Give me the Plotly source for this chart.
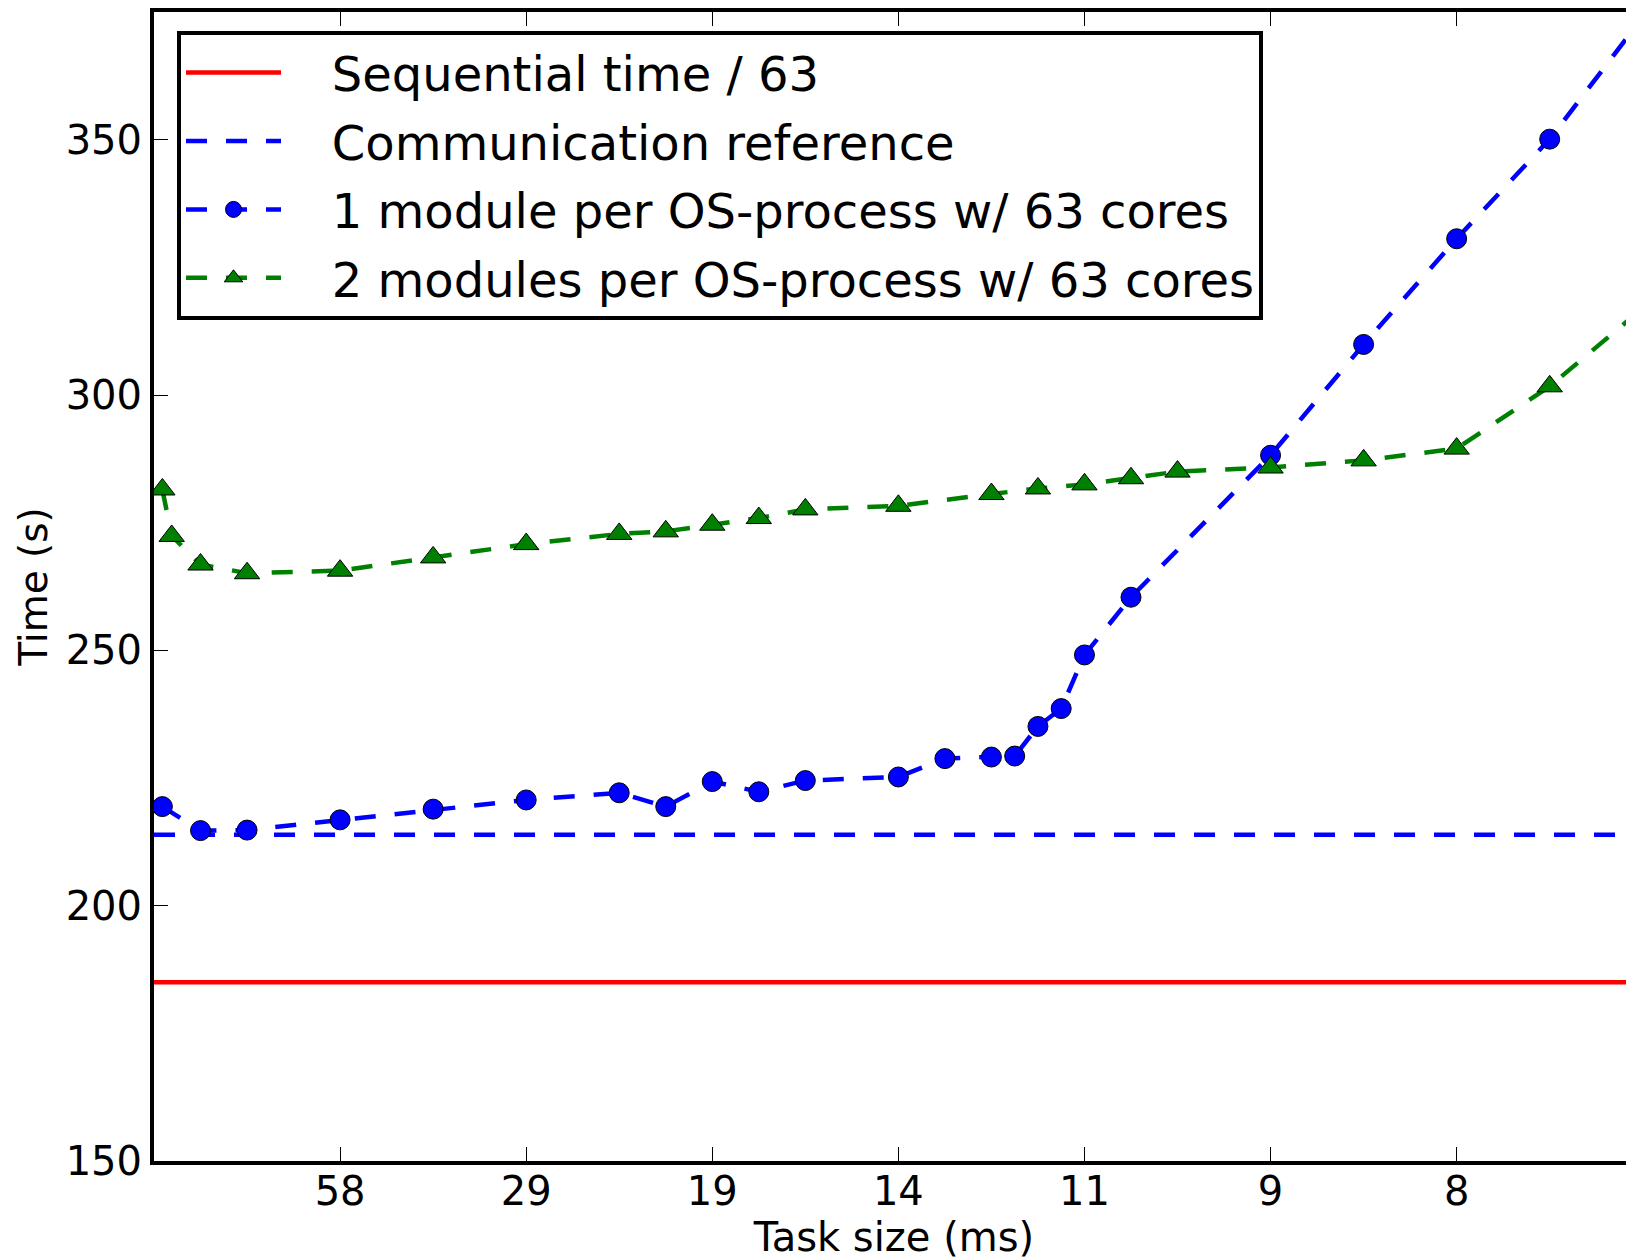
import plotly.graph_objects as go

# ---- data (x in units of task-count steps; ticks labelled by task size) ----
tick_pos = [1, 2, 3, 4, 5, 6, 7]
tick_labels = ["58", "29", "19", "14", "11", "9", "8"]
y_ticks = [150, 200, 250, 300, 350]

x_extent = [0, 8]
seq_time_63 = 185.0
comm_reference = 213.9

x_one_module = [0.045, 0.25, 0.5, 1.0, 1.5, 2.0, 2.5, 2.75, 3.0, 3.25, 3.5,
                4.0, 4.25, 4.5, 4.625, 4.75, 4.875, 5.0, 5.25, 6.0, 6.5, 7.0, 7.5, 8.0]
y_one_module = [219.4, 214.7, 214.8, 216.8, 218.9, 220.7, 222.1, 219.4, 224.3, 222.3, 224.5,
                225.2, 228.8, 229.1, 229.3, 235.1, 238.6, 249.1, 260.4, 288.2, 309.9, 330.6, 350.1, 374.0]

x_two_modules = [0.045, 0.095, 0.25, 0.5, 1.0, 1.5, 2.0, 2.5, 2.75, 3.0, 3.25, 3.5,
                 4.0, 4.5, 4.75, 5.0, 5.25, 5.5, 6.0, 6.5, 7.0, 7.5, 8.0]
y_two_modules = [281.5, 272.4, 266.8, 265.1, 265.6, 268.2, 270.8, 272.8, 273.3, 274.6, 275.9, 277.6,
                 278.3, 280.6, 281.7, 282.5, 283.7, 285.0, 285.8, 287.2, 289.5, 301.7, 317.0]

names = ["Sequential time / 63", "Communication reference",
         "1 module per OS-process w/ 63 cores", "2 modules per OS-process w/ 63 cores"]
PAD = "\u00a0" * 3  # gap between legend symbol and label

# ---- layout geometry (page has an 8px body margin) ----
W, H = 1626, 1252
L, R, T, B = 146, 0, 2, 95
x_range = [0, 7.953]
y_range = [150, 375]
FONT = "DejaVu Sans"
DASH = "21px,19px"
LW = 4.5

fig = go.Figure()

fig.add_trace(go.Scatter(
    x=x_extent, y=[seq_time_63] * len(x_extent), mode="lines",
    name=PAD + names[0], legendgroup="a",
    line=dict(color="#ff0000", width=LW)))

fig.add_trace(go.Scatter(
    x=x_extent, y=[comm_reference] * len(x_extent), mode="lines",
    name=PAD + names[1], legendgroup="b",
    line=dict(color="#0000ff", width=LW, dash=DASH)))

fig.add_trace(go.Scatter(
    x=x_one_module, y=y_one_module, mode="lines+markers",
    name=PAD + names[2], legendgroup="c",
    line=dict(color="#0000ff", width=LW, dash=DASH),
    marker=dict(symbol="circle", size=20, color="#0000ff",
                line=dict(color="black", width=1))))

fig.add_trace(go.Scatter(
    x=x_two_modules, y=y_two_modules, mode="lines+markers",
    name=PAD + names[3], legendgroup="d",
    line=dict(color="#008000", width=LW, dash=DASH),
    marker=dict(symbol="triangle-up", size=22, color="#008000",
                line=dict(color="black", width=1))))

plot_h = H - T - B
fig.update_layout(
    width=W, height=H, autosize=False,
    margin=dict(l=L, r=R, t=T, b=B, pad=0),
    paper_bgcolor="white", plot_bgcolor="white",
    font=dict(family=FONT, color="black"),
    showlegend=True,
    legend=dict(
        x=(169 - L) / (W - L - R), y=(H - B - 21) / plot_h,
        xanchor="left", yanchor="top",
        bgcolor="white", bordercolor="black", borderwidth=4,
        font=dict(family=FONT, size=48, color="black"),
        traceorder="grouped", tracegroupgap=3, itemwidth=95,
    ),
    xaxis=dict(
        range=x_range, tickmode="array", tickvals=tick_pos, ticktext=tick_labels,
        showgrid=False, zeroline=False,
        showline=True, linecolor="black", linewidth=4, mirror="ticks",
        ticks="inside", ticklen=14, tickwidth=1, tickcolor="black",
        tickfont=dict(family=FONT, size=40, color="black"),
        ticklabelstandoff=-8,
        title=dict(text="Task size (ms)", font=dict(family=FONT, size=40), standoff=18),
    ),
    yaxis=dict(
        range=y_range, tickmode="array", tickvals=y_ticks,
        showgrid=False, zeroline=False,
        showline=True, linecolor="black", linewidth=4, mirror=False,
        ticks="inside", ticklen=14, tickwidth=1, tickcolor="black",
        tickfont=dict(family=FONT, size=40, color="black"),
        title=dict(text="Time (s)", font=dict(family=FONT, size=39), standoff=7),
    ),
    yaxis2=dict(
        range=y_range, overlaying="y", side="right", anchor="x",
        tickmode="array", tickvals=y_ticks,
        showgrid=False, zeroline=False, showline=False, showticklabels=False,
        ticks="inside", ticklen=7, tickwidth=1, tickcolor="black",
    ),
)

fig.write_html("out.html")
